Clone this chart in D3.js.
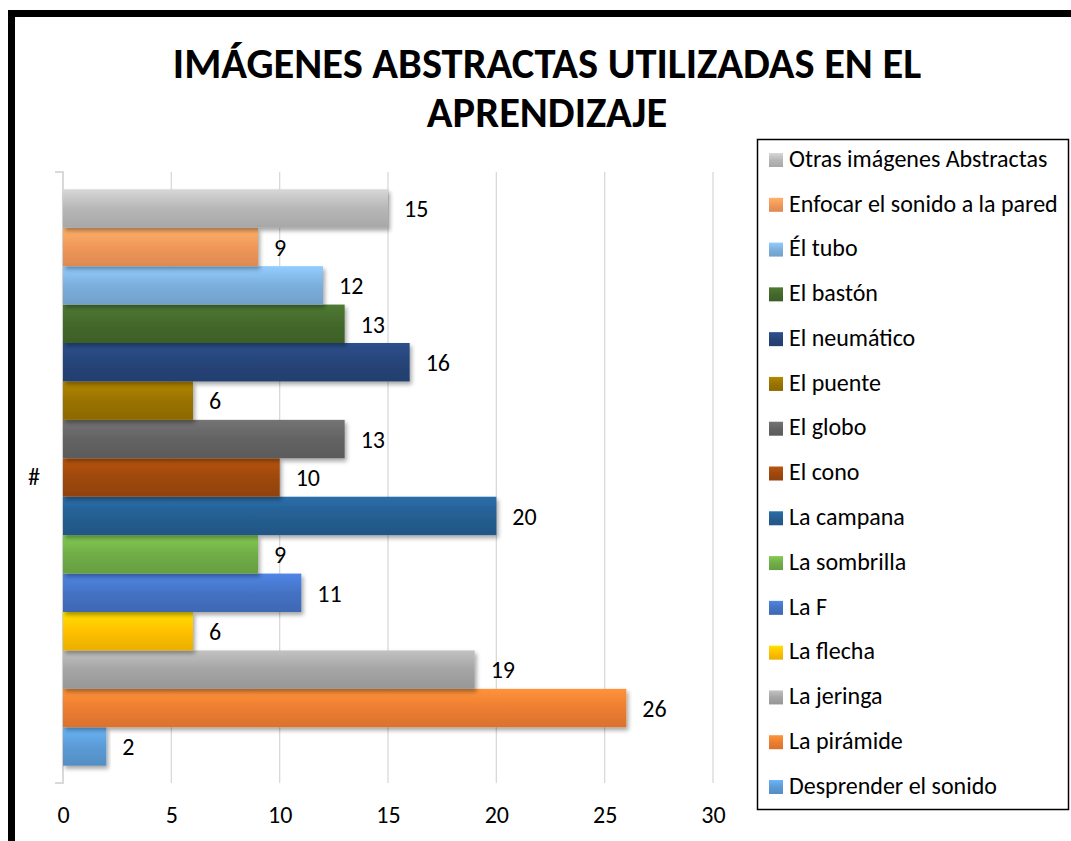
<!DOCTYPE html>
<html>
<head>
<meta charset="utf-8">
<title>Imágenes abstractas</title>
<script src="https://d3js.org/d3.v7.min.js"></script>
<style>
  html, body { margin: 0; padding: 0; background: #fff; overflow: hidden; }
  svg { display: block; }
  text { font-family: Carlito, Lato, "Open Sans", sans-serif; fill: #000; }
</style>
</head>
<body>
<svg id="chart" width="1071" height="841"></svg>
<script>
// series in plotting order (first = bottom bar)
const seriesNames = ['Desprender el sonido', 'La pirámide', 'La jeringa', 'La flecha', 'La F',
  'La sombrilla', 'La campana', 'El cono', 'El globo', 'El puente', 'El neumático',
  'El bastón', 'Él tubo', 'Enfocar el sonido a la pared', 'Otras imágenes Abstractas'];
const seriesValues = [2, 26, 19, 6, 11, 9, 20, 10, 13, 6, 16, 13, 12, 9, 15];
const seriesColors = ['#5B9BD5', '#ED7D31', '#A5A5A5', '#FFC000', '#4472C4', '#70AD47', '#255E91',
  '#9E480E', '#636363', '#997300', '#264478', '#43682B', '#7CAFDD', '#F1975A', '#B7B7B7'];
const categories = ['#'];
const xTicks = [0, 5, 10, 15, 20, 25, 30];
const titleLines = ['IMÁGENES ABSTRACTAS UTILIZADAS EN EL', 'APRENDIZAJE'];

const svg = d3.select('#chart');
const defs = svg.append('defs');

// drop shadow like the office chart style
const shadow = defs.append('filter').attr('id', 'shadow')
  .attr('x', '-5%').attr('y', '-20%').attr('width', '115%').attr('height', '150%');
shadow.append('feDropShadow')
  .attr('dx', 2).attr('dy', 3).attr('stdDeviation', 2)
  .attr('flood-color', '#000').attr('flood-opacity', 0.35);

seriesColors.forEach((c, i) => {
  const g = defs.append('linearGradient').attr('id', 'grad' + i)
    .attr('x1', 0).attr('y1', 0).attr('x2', 0).attr('y2', 1);
  g.append('stop').attr('offset', '0%').attr('stop-color', d3.color(c).brighter(0.45));
  g.append('stop').attr('offset', '50%').attr('stop-color', c);
  g.append('stop').attr('offset', '100%').attr('stop-color', d3.color(c).darker(0.25));
});

// outer frame
svg.append('rect')
  .attr('x', 11.5).attr('y', 13.5)
  .attr('width', 1200).attr('height', 1000)
  .attr('fill', 'none').attr('stroke', '#000').attr('stroke-width', 7);

// title
svg.append('g').selectAll('text')
  .data(titleLines)
  .join('text')
  .attr('x', 547)
  .attr('y', (d, i) => 78 + i * 49)
  .attr('text-anchor', 'middle')
  .attr('font-size', 42.5)
  .attr('font-weight', 'bold')
  .text(d => d);

const plot = { left: 63, right: 713, top: 172, bottom: 783 };

const x = d3.scaleLinear().domain([0, 30]).range([plot.left, plot.right]);
const y = d3.scaleBand().domain(categories).range([plot.top, plot.bottom])
  .paddingInner(0).paddingOuter(0.03);
const ySeries = d3.scaleBand()
  .domain(d3.range(seriesNames.length).reverse())
  .range([0, y.bandwidth()]);

// grid
svg.append('g').selectAll('line')
  .data(xTicks.slice(1))
  .join('line')
  .attr('x1', d => x(d)).attr('x2', d => x(d))
  .attr('y1', plot.top).attr('y2', plot.bottom)
  .attr('stroke', '#D9D9D9').attr('stroke-width', 1.3);

// x axis labels
const xAxis = d3.axisBottom(x).tickValues(xTicks).tickSize(0).tickPadding(0).tickFormat(d3.format('d'));
const xg = svg.append('g').attr('transform', `translate(0, ${plot.bottom + 23})`).call(xAxis);
xg.select('.domain').remove();
xg.selectAll('text').attr('font-size', 24).attr('font-family', 'Carlito, Lato, sans-serif').attr('fill', '#000');

// y axis line with end ticks
const yAxis = d3.axisLeft(y).tickSize(0).tickPadding(23);
const yg = svg.append('g').attr('transform', `translate(${plot.left}, 0)`).call(yAxis);
yg.select('.domain').attr('stroke', '#D9D9D9').attr('stroke-width', 2)
  .attr('d', `M-8,${plot.top}H0V${plot.bottom}H-8`);
yg.selectAll('text').attr('font-size', 24).attr('font-family', 'Carlito, Lato, sans-serif').attr('fill', '#000');

// bars
const bars = svg.append('g').attr('transform', `translate(0, ${y('#')})`);
bars.selectAll('rect')
  .data(seriesValues.map((v, i) => ({ v, i })))
  .join('rect')
  .attr('x', x(0))
  .attr('y', d => ySeries(d.i))
  .attr('width', d => x(d.v) - x(0))
  .attr('height', ySeries.bandwidth())
  .attr('fill', d => `url(#grad${d.i})`)
  .attr('filter', 'url(#shadow)');

bars.selectAll('text')
  .data(seriesValues.map((v, i) => ({ v, i })))
  .join('text')
  .attr('x', d => x(d.v) + 16)
  .attr('y', d => ySeries(d.i) + ySeries.bandwidth() / 2 + 3)
  .attr('dominant-baseline', 'middle')
  .attr('font-size', 24)
  .text(d => d.v);

// legend
const legend = svg.append('g');
legend.append('rect')
  .attr('x', 757.5).attr('y', 139.5).attr('width', 311).attr('height', 670)
  .attr('fill', '#fff').attr('stroke', '#000').attr('stroke-width', 1.5);
const legendOrder = d3.range(seriesNames.length).reverse();
const ly = d3.scalePoint().domain(legendOrder).range([160, 787]);
const items = legend.selectAll('g.item')
  .data(legendOrder)
  .join('g').attr('class', 'item')
  .attr('transform', i => `translate(769, ${ly(i)})`);
items.append('rect')
  .attr('x', 0).attr('y', -7).attr('width', 14).attr('height', 14)
  .attr('fill', i => `url(#grad${i})`);
items.append('text')
  .attr('x', 20).attr('y', 1)
  .attr('dominant-baseline', 'middle')
  .attr('font-size', 24)
  .text(i => seriesNames[i]);
</script>
</body>
</html>
